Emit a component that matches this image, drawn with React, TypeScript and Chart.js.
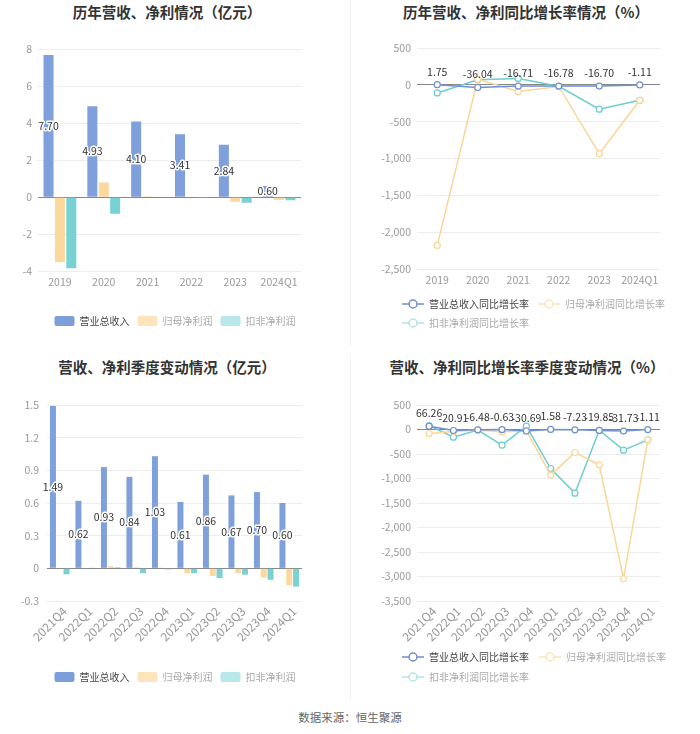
import React, { useEffect, useRef } from 'react';
import { Chart, registerables } from 'chart.js';

Chart.register(...registerables);

const FONT = '"Noto Sans CJK SC", "Noto Sans", sans-serif';

// ---------- data ----------
const yearCats = ['2019', '2020', '2021', '2022', '2023', '2024Q1'];
const yearRevenue = [7.7, 4.93, 4.1, 3.41, 2.84, 0.6];
const yearNetProfit = [-3.52, 0.8, 0.05, 0.02, -0.25, -0.15];
const yearDeducted = [-3.85, -0.9, 0.02, -0.05, -0.3, -0.17];

const yearRevenueGrowth = [1.75, -36.04, -16.71, -16.78, -16.7, -1.11];
const yearNetProfitGrowth = [-2180, 75, -90, -22, -935, -210];
const yearDeductedGrowth = [-110, 68, 87, -20, -330, -210];

const quarterCats = ['2021Q4', '2022Q1', '2022Q2', '2022Q3', '2022Q4', '2023Q1', '2023Q2', '2023Q3', '2023Q4', '2024Q1'];
const quarterRevenue = [1.49, 0.62, 0.93, 0.84, 1.03, 0.61, 0.86, 0.67, 0.7, 0.6];
const quarterNetProfit = [-0.005, 0.005, 0.02, 0.01, 0.003, -0.045, -0.07, -0.043, -0.085, -0.155];
const quarterDeducted = [-0.055, 0.003, 0.01, -0.045, -0.01, -0.045, -0.09, -0.058, -0.105, -0.168];

const quarterRevenueGrowth = [66.26, -20.91, -6.48, -0.63, -30.69, 1.58, -7.23, -19.85, -31.73, -1.11];
const quarterNetProfitGrowth = [-82, -40, -10, -50, -20, -932, -469, -721, -3048, -211];
const quarterDeductedGrowth = [82, -156, -10, -320, 68, -796, -1299, -15, -422, -211];

const barNames = ['营业总收入', '归母净利润', '扣非净利润'];
const lineNames = ['营业总收入同比增长率', '归母净利润同比增长率', '扣非净利润同比增长率'];

// ---------- styles ----------
const BLUE = '#7fa0da';
const YELLOW = '#fdd89e';
const TEAL = '#78d2d4';
const BAR_LEGEND = ['#7d9fd9', '#fde4bd', '#b9e8ea'];
const LINE_BLUE = '#6f8fd0';
const LINE_YELLOW = '#fbd699';
const LINE_TEAL = '#6dcdd0';
const LINE_LEGEND = ['#6f8fd0', '#fde3b8', '#b0e4e6'];
const TICK = '#999';
const LEGEND_TEXT = ['#444', '#aaa', '#aaa'];

const zeroGrid = (c: any) => (c.tick && c.tick.value === 0 ? '#888' : '#ececec');

const valueLabelPlugin = {
  id: 'valueLabels',
  afterDatasetsDraw(chart: any, _args: any, opts: any) {
    if (!opts || opts.datasetIndex == null) return;
    const meta = chart.getDatasetMeta(opts.datasetIndex);
    const data = chart.data.datasets[opts.datasetIndex].data;
    const ctx = chart.ctx;
    ctx.save();
    ctx.font = `${opts.fontSize || 10.5}px ${FONT}`;
    ctx.textAlign = 'center';
    ctx.textBaseline = 'middle';
    meta.data.forEach((el: any, i: number) => {
      const text = Number(data[i]).toFixed(2);
      const x = el.x;
      const y = opts.mode === 'center' ? (el.y + el.base) / 2 : el.y - (opts.offset || 12);
      if (opts.halo) {
        ctx.lineJoin = 'round';
        ctx.lineWidth = 3;
        ctx.strokeStyle = '#fff';
        ctx.strokeText(text, x, y);
      }
      ctx.fillStyle = '#333';
      ctx.fillText(text, x, y);
    });
    ctx.restore();
  },
};

// shifts the legend block to the right so wrapped rows stay left-aligned under the plot
const legendShiftPlugin = {
  id: 'legendShift',
  afterLayout(chart: any, _args: any, opts: any) {
    if (opts && opts.shift && chart.legend) {
      chart.legend.left += opts.shift;
    }
  },
};

function makeLineIcon(color: string) {
  const c = document.createElement('canvas');
  c.width = 22;
  c.height = 12;
  const g = c.getContext('2d')!;
  g.strokeStyle = color;
  g.lineWidth = 1.5;
  g.beginPath();
  g.moveTo(0, 6);
  g.lineTo(22, 6);
  g.stroke();
  g.beginPath();
  g.arc(11, 6, 4, 0, Math.PI * 2);
  g.fillStyle = '#fff';
  g.fill();
  g.stroke();
  return c;
}

function barLegend(padding: number) {
  return {
    position: 'bottom',
    align: 'center',
    labels: {
      font: { size: 10, family: FONT },
      boxWidth: 20,
      boxHeight: 10,
      padding,
      useBorderRadius: true,
      borderRadius: 2,
      generateLabels: (chart: any) =>
        chart.data.datasets.map((ds: any, i: number) => ({
          text: ds.label,
          fillStyle: BAR_LEGEND[i],
          strokeStyle: BAR_LEGEND[i],
          lineWidth: 0,
          fontColor: LEGEND_TEXT[i],
          hidden: false,
          datasetIndex: i,
          borderRadius: 2,
        })),
    },
  };
}

function lineLegend(padding: number) {
  return {
    position: 'bottom',
    align: 'start',
    labels: {
      font: { size: 10, family: FONT },
      usePointStyle: true,
      pointStyleWidth: 22,
      boxHeight: 10,
      padding,
      generateLabels: (chart: any) =>
        chart.data.datasets.map((ds: any, i: number) => ({
          text: ds.label,
          fillStyle: '#fff',
          strokeStyle: LINE_LEGEND[i],
          lineWidth: 0,
          fontColor: LEGEND_TEXT[i],
          hidden: false,
          datasetIndex: i,
          pointStyle: makeLineIcon(LINE_LEGEND[i]),
        })),
    },
  };
}

const dummyRight = (w: number) => ({
  position: 'right',
  display: true,
  grid: { display: false, drawTicks: false },
  border: { display: false },
  ticks: { display: false },
  afterFit: (s: any) => {
    s.width = w;
  },
});

const tickFont = { size: 10.5, family: FONT };

function barConfig(opts: any) {
  return {
    type: 'bar',
    data: {
      labels: opts.labels,
      datasets: [
        { label: barNames[0], data: opts.series[0], backgroundColor: BLUE },
        { label: barNames[1], data: opts.series[1], backgroundColor: YELLOW },
        { label: barNames[2], data: opts.series[2], backgroundColor: TEAL },
      ],
    },
    options: {
      responsive: false,
      animation: false,
      devicePixelRatio: 1,
      layout: { padding: opts.padding },
      datasets: { bar: { categoryPercentage: opts.catPct, barPercentage: opts.barPct } },
      scales: {
        x: {
          grid: { display: false, drawTicks: false },
          border: { display: false },
          ticks: {
            color: TICK,
            font: opts.xFont || tickFont,
            padding: opts.xPad,
            autoSkip: false,
            minRotation: opts.rotation || 0,
            maxRotation: opts.rotation || 0,
            labelOffset: opts.labelOffset || 0,
          },
          afterFit: (s: any) => {
            s.height = opts.xH;
          },
        },
        y: {
          min: opts.min,
          max: opts.max,
          ticks: { stepSize: opts.step, color: TICK, font: tickFont, padding: opts.yPad, callback: opts.fmt },
          grid: { color: zeroGrid, drawTicks: false },
          border: { display: false },
          afterFit: (s: any) => {
            s.width = opts.yW;
          },
        },
        yR: dummyRight(opts.rightW),
      },
      plugins: {
        legend: barLegend(opts.legendPad),
        tooltip: { enabled: false },
        valueLabels: { datasetIndex: 0, mode: 'center', halo: true, fontSize: 10.5 },
      },
    },
    plugins: [valueLabelPlugin],
  };
}

function lineDataset(label: string, data: number[], color: string) {
  return {
    label,
    data,
    borderColor: color,
    backgroundColor: color,
    borderWidth: 1.5,
    pointRadius: 3,
    pointBorderWidth: 1.2,
    pointBackgroundColor: '#fff',
    pointBorderColor: color,
    tension: 0,
  };
}

function lineConfig(opts: any) {
  return {
    type: 'line',
    data: {
      labels: opts.labels,
      datasets: [
        lineDataset(lineNames[0], opts.series[0], LINE_BLUE),
        lineDataset(lineNames[1], opts.series[1], LINE_YELLOW),
        lineDataset(lineNames[2], opts.series[2], LINE_TEAL),
      ],
    },
    options: {
      responsive: false,
      animation: false,
      devicePixelRatio: 1,
      layout: { padding: opts.padding },
      scales: {
        x: {
          offset: true,
          grid: { display: false, drawTicks: false },
          border: { display: false },
          ticks: {
            color: TICK,
            font: opts.xFont || tickFont,
            padding: opts.xPad,
            autoSkip: false,
            minRotation: opts.rotation || 0,
            maxRotation: opts.rotation || 0,
            labelOffset: opts.labelOffset || 0,
          },
          afterFit: (s: any) => {
            s.height = opts.xH;
          },
        },
        y: {
          min: opts.min,
          max: opts.max,
          ticks: {
            stepSize: opts.step,
            color: TICK,
            font: tickFont,
            padding: opts.yPad,
            callback: (v: any) => Number(v).toLocaleString('en-US'),
          },
          grid: { color: zeroGrid, drawTicks: false },
          border: { display: false },
          afterFit: (s: any) => {
            s.width = opts.yW;
          },
        },
        yR: dummyRight(opts.rightW),
      },
      plugins: {
        legend: lineLegend(opts.legendPad),
        legendShift: { shift: opts.legendShift },
        tooltip: { enabled: false },
        valueLabels: { datasetIndex: 0, mode: 'top', offset: 13, fontSize: 10.5 },
      },
    },
    plugins: [valueLabelPlugin, legendShiftPlugin],
  };
}

function ChartPanel({ left, top, width, height, config }: any) {
  const ref = useRef<HTMLCanvasElement | null>(null);
  useEffect(() => {
    if (!ref.current) return;
    const chart = new Chart(ref.current, config);
    return () => chart.destroy();
  }, []);
  return (
    <div style={{ position: 'absolute', left, top, width, height }}>
      <canvas ref={ref} width={width} height={height} style={{ display: 'block', width, height }} />
    </div>
  );
}

const titleStyle: any = {
  position: 'absolute',
  textAlign: 'center',
  fontSize: 14.5,
  fontWeight: 'bold',
  color: '#333',
  lineHeight: '18px',
  whiteSpace: 'nowrap',
};

export default function App() {
  const tl = barConfig({
    labels: yearCats,
    series: [yearRevenue, yearNetProfit, yearDeducted],
    padding: { left: 0, right: 0, top: 19.5, bottom: 4 },
    catPct: 0.78,
    barPct: 0.88,
    xPad: 5,
    xH: 37,
    min: -4,
    max: 8,
    step: 2,
    yPad: 6,
    yW: 38,
    rightW: 49,
    legendPad: 8,
  });
  const tr = lineConfig({
    labels: yearCats,
    series: [yearRevenueGrowth, yearNetProfitGrowth, yearDeductedGrowth],
    padding: { left: 0, right: 0, top: 18, bottom: 2 },
    xPad: 5,
    xH: 21,
    min: -2500,
    max: 500,
    step: 500,
    yPad: 6,
    yW: 67,
    rightW: 40,
    legendPad: 9,
    legendShift: 43,
  });
  const bl = barConfig({
    labels: quarterCats,
    series: [quarterRevenue, quarterNetProfit, quarterDeducted],
    padding: { left: 0, right: 0, top: 15, bottom: 8 },
    catPct: 0.8,
    barPct: 0.88,
    xPad: 3,
    xH: 63,
    rotation: 45,
    labelOffset: 5,
    xFont: { size: 12, family: FONT },
    min: -0.3,
    max: 1.5,
    step: 0.3,
    yPad: 8,
    yW: 47,
    rightW: 48,
    legendPad: 8,
    fmt: (v: any) => String(Math.round(Number(v) * 10) / 10),
  });
  const br = lineConfig({
    labels: quarterCats,
    series: [quarterRevenueGrowth, quarterNetProfitGrowth, quarterDeductedGrowth],
    padding: { left: 0, right: 0, top: 15, bottom: 8 },
    xPad: 3,
    xH: 41,
    rotation: 45,
    labelOffset: 5,
    xFont: { size: 12, family: FONT },
    min: -3500,
    max: 500,
    step: 500,
    yPad: 6,
    yW: 67,
    rightW: 40,
    legendPad: 10,
    legendShift: 42,
  });

  return (
    <div
      style={{
        position: 'fixed',
        left: 0,
        top: 0,
        width: 700,
        height: 734,
        background: '#fff',
        fontFamily: FONT,
        overflow: 'hidden',
      }}
    >
      <div style={{ position: 'absolute', left: 350, top: 0, width: 1, height: 345, background: '#f0f0f0' }} />
      <div style={{ position: 'absolute', left: 350, top: 355, width: 1, height: 345, background: '#f0f0f0' }} />

      <div style={{ ...titleStyle, left: 0, width: 334, top: 3 }}>历年营收、净利情况（亿元）</div>
      <div style={{ ...titleStyle, left: 350, width: 352, top: 3 }}>历年营收、净利同比增长率情况（%）</div>
      <div style={{ ...titleStyle, left: 0, width: 334, top: 358 }}>营收、净利季度变动情况（亿元）</div>
      <div style={{ ...titleStyle, left: 350, width: 354, top: 358 }}>营收、净利同比增长率季度变动情况（%）</div>

      <ChartPanel left={0} top={30} width={350} height={310} config={tl} />
      <ChartPanel left={350} top={30} width={350} height={310} config={tr} />
      <ChartPanel left={0} top={390} width={350} height={310} config={bl} />
      <ChartPanel left={350} top={390} width={350} height={310} config={br} />

      <div
        style={{
          position: 'absolute',
          left: 0,
          width: 700,
          top: 709,
          textAlign: 'center',
          fontSize: 11.5,
          lineHeight: '16px',
          color: '#666',
        }}
      >
        数据来源：恒生聚源
      </div>
    </div>
  );
}
